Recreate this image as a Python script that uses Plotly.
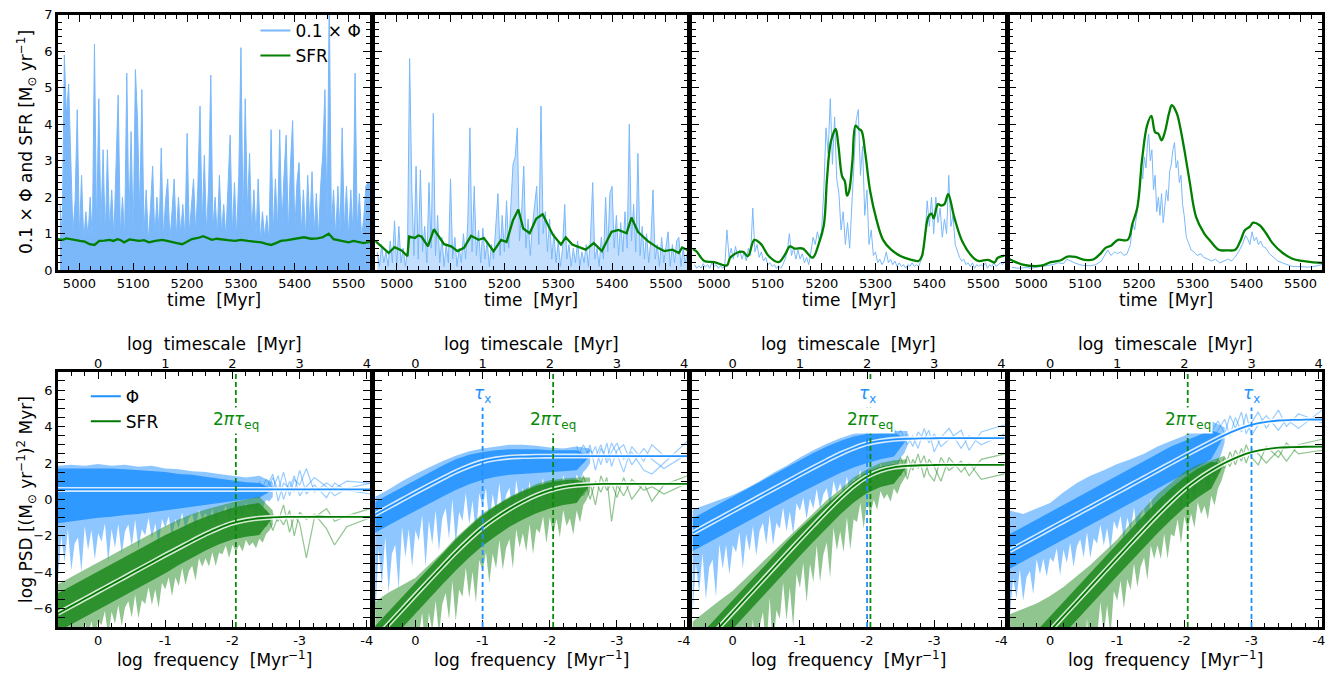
import numpy as np
import plotly.graph_objects as go

W, H = 1342, 684
FONT = "DejaVu Sans"

# ======================= TOP ROW: time series =======================
T0, DT = 4964, 4  # sampling grid of the dense Phi series [Myr]

PHI_1 = [1.8, 0.9, 5.9, 4.2, 5.1, 2.8, 1.0, 1.9, 4.4, 0.9,
         2.6, 0.8, 1.6, 0.9, 2.0, 0.8, 6.2, 1.0, 4.7, 1.2,
         3.3, 0.9, 3.3, 1.1, 2.2, 0.9, 3.05, 4.8, 1.0, 2.0,
         0.9, 5.4, 1.3, 3.8, 0.9, 5.5, 4.1, 1.5, 4.95, 1.0,
         2.2, 0.8, 1.7, 2.85, 0.9, 2.0, 1.0, 3.35, 0.9, 1.9,
         2.5, 0.8, 1.6, 2.5, 0.9, 2.0, 1.0, 1.8, 0.9, 3.75,
         1.0, 1.9, 2.5, 1.0, 2.3, 4.5, 1.2, 3.15, 1.0, 2.3,
         5.35, 1.1, 2.0, 0.9, 2.6, 1.0, 1.8, 0.9, 2.1, 3.7,
         1.0, 2.4, 0.9, 2.6, 6.1, 1.2, 4.7, 1.6, 3.2, 1.0,
         2.2, 0.9, 2.5, 0.8, 1.6, 0.9, 1.5, 0.8, 3.85, 1.0,
         2.5, 1.1, 3.85, 1.2, 2.6, 3.7, 1.0, 2.9, 4.1, 1.1,
         2.4, 2.95, 1.0, 2.2, 0.9, 2.6, 1.2, 2.7, 1.0, 2.1,
         0.9, 2.3, 3.2, 4.95, 1.3, 7.5, 1.2, 2.2, 0.9, 2.3,
         1.0, 3.9, 1.1, 2.3, 0.9, 2.2, 1.0, 5.4, 1.1, 2.1,
         0.9, 1.4, 2.3, 2.4, 2.4]

PHI_2 = [0.5, 0.1, 0.7, 0.2, 0.5, 0.1, 0.8, 0.2, 1.35, 0.1,
         1.2, 0.2, 0.6, 0.1, 0.5, 5.8, 2.3, 0.4, 2.85, 0.3,
         2.75, 0.5, 1.2, 0.2, 2.4, 0.6, 4.3, 0.4, 1.5, 0.2,
         0.9, 0.1, 0.7, 0.2, 2.5, 0.3, 0.9, 0.1, 0.6, 0.2,
         1.0, 0.3, 1.3, 3.9, 0.5, 2.3, 0.4, 1.1, 0.2, 1.15,
         0.3, 0.8, 0.1, 0.7, 0.3, 1.2, 2.1, 0.4, 1.5, 0.5,
         1.9, 0.6, 1.8, 2.9, 3.1, 3.9, 0.8, 1.6, 2.85, 0.6,
         1.4, 0.4, 1.2, 1.7, 2.3, 0.7, 4.5, 1.0, 1.6, 0.5,
         1.4, 0.3, 1.0, 0.2, 0.8, 0.1, 0.6, 1.8, 0.3, 0.7,
         0.1, 0.6, 0.2, 0.8, 0.1, 0.5, 0.2, 0.7, 0.1, 0.9,
         2.4, 0.3, 0.6, 0.1, 0.9, 0.3, 2.0, 0.5, 2.1, 2.3,
         0.6, 1.5, 0.4, 1.3, 0.5, 1.6, 0.6, 4.0, 0.8, 1.8,
         0.5, 3.2, 0.4, 1.2, 0.3, 1.0, 0.2, 0.8, 2.2, 0.3,
         0.7, 0.1, 0.9, 0.2, 0.6, 1.05, 0.1, 0.7, 0.2, 0.8,
         0.9, 0.1, 0.6, 0.2, 0.5]

PHI_3 = [0.15, 0.05, 0.12, 0.05, 0.18, 0.08, 0.15, 0.05, 0.2, 0.1,
         0.15, 0.05, 0.12, 0.05, 0.1, 1.1, 0.35, 0.6, 0.3, 0.65,
         0.35, 0.55, 0.3, 0.5, 0.25, 0.6, 0.4, 1.7, 0.5, 0.7,
         0.35, 0.5, 0.25, 0.35, 0.15, 0.2, 0.1, 0.15, 0.05, 0.12,
         0.05, 0.15, 0.3, 0.5, 1.0, 0.4, 0.6, 0.3, 0.55, 0.3,
         0.45, 0.2, 0.35, 0.15, 0.5, 0.9, 0.7, 1.05, 0.8, 1.1,
         2.2, 3.9, 3.2, 4.7, 2.9, 4.2, 2.5, 2.1, 1.1, 1.6,
         0.7, 1.3, 0.6, 1.8, 2.6, 4.1, 4.4, 2.6, 3.4, 1.5,
         2.2, 0.7, 1.1, 0.4, 0.5, 0.2, 0.3, 0.15, 0.25, 0.5,
         0.2, 0.3, 0.15, 0.25, 0.1, 0.2, 0.1, 0.15, 0.05, 0.15,
         0.1, 0.2, 0.1, 0.15, 0.1, 0.25, 0.4, 0.9, 1.9, 1.2,
         2.0, 1.0, 2.0, 1.3, 1.7, 0.9, 1.4, 1.0, 2.6, 1.2,
         1.5, 0.7, 0.5, 0.35, 0.25, 0.3, 0.15, 0.2, 0.1, 0.2,
         0.05, 0.15, 0.1, 0.15, 0.1, 0.2, 0.05, 0.15, 0.1, 0.2,
         0.1, 0.15, 0.2, 0.15, 0.25]

PHI4_T = [4964, 4975, 4990, 5000, 5010, 5020, 5030, 5040, 5050, 5060,
          5066, 5072, 5080, 5090, 5100, 5110, 5120, 5130, 5138, 5142,
          5148, 5155, 5160, 5166, 5172, 5178, 5184, 5188, 5192, 5196,
          5200, 5204, 5207, 5210, 5213, 5216, 5218, 5221, 5224, 5227,
          5230, 5233, 5236, 5239, 5242, 5245, 5248, 5251, 5254, 5257,
          5260, 5263, 5266, 5269, 5272, 5275, 5278, 5281, 5284, 5288,
          5292, 5297, 5302, 5308, 5315, 5320, 5328, 5335, 5342, 5350,
          5358, 5366, 5372, 5378, 5385, 5392, 5398, 5402, 5406, 5410,
          5414, 5418, 5422, 5426, 5430, 5436, 5442, 5450, 5458, 5466,
          5475, 5485, 5495, 5505, 5515, 5525, 5535, 5540]
PHI_4 = [0.08, 0.05, 0.07, 0.05, 0.08, 0.1, 0.13, 0.15, 0.2, 0.18,
         0.3, 0.25, 0.2, 0.15, 0.12, 0.12, 0.15, 0.25, 0.45, 0.55,
         0.4, 0.5, 0.45, 0.5, 0.4, 0.45, 0.7, 1.3, 1.1, 1.6,
         2.0, 2.9, 2.5, 3.1, 2.8, 3.5, 3.73, 3.0, 3.3, 2.2,
         2.6, 1.6, 2.0, 1.5, 2.1, 1.3, 1.8, 2.2, 1.9, 2.7,
         2.9, 3.3, 3.5, 2.8, 3.0, 2.4, 2.6, 1.8, 1.5, 0.9,
         0.75, 0.55, 0.5, 0.4, 0.45, 0.35, 0.3, 0.25, 0.3, 0.2,
         0.25, 0.3, 0.25, 0.35, 0.5, 0.7, 0.95, 0.85, 0.7, 1.05,
         0.8, 0.9, 0.7, 0.8, 0.65, 0.6, 0.45, 0.35, 0.25, 0.2,
         0.15, 0.1, 0.1, 0.08, 0.08, 0.1, 0.12, 0.15]

SFR1_T = [4960, 4969, 4976, 4982, 4990, 5001, 5010, 5019, 5028, 5037,
          5046, 5056, 5063, 5071, 5077, 5083, 5093, 5102, 5111, 5120,
          5129, 5141, 5154, 5163, 5172, 5181, 5191, 5200, 5209, 5220,
          5230, 5238, 5246, 5255, 5264, 5276, 5289, 5300, 5313, 5325,
          5338, 5347, 5356, 5365, 5374, 5386, 5399, 5408, 5417, 5430,
          5442, 5452, 5463, 5472, 5481, 5491, 5500, 5509, 5518, 5528,
          5540]
SFR1 = [0.85, 0.83, 0.87, 0.85, 0.82, 0.80, 0.78, 0.71, 0.69, 0.80,
        0.81, 0.83, 0.80, 0.85, 0.82, 0.76, 0.84, 0.81, 0.80, 0.82,
        0.76, 0.80, 0.83, 0.80, 0.76, 0.74, 0.71, 0.78, 0.85, 0.88,
        0.93, 0.88, 0.83, 0.86, 0.85, 0.82, 0.80, 0.83, 0.80, 0.79,
        0.76, 0.72, 0.69, 0.74, 0.80, 0.82, 0.85, 0.88, 0.90, 0.86,
        0.87, 0.90, 1.0, 0.85, 0.82, 0.78, 0.76, 0.80, 0.77, 0.74,
        0.78]

SFR2_T = [4960, 4985, 4996, 5009, 5020, 5023, 5034, 5040, 5046, 5058,
          5069, 5088, 5101, 5113, 5125, 5138, 5152, 5162, 5180, 5194,
          5204, 5216, 5226, 5235, 5247, 5259, 5271, 5290, 5305, 5314,
          5326, 5351, 5366, 5381, 5399, 5412, 5427, 5436, 5448, 5466,
          5485, 5497, 5512, 5524, 5530, 5540]
SFR2 = [0.80, 0.47, 0.63, 0.54, 0.38, 0.92, 0.88, 0.95, 0.92, 0.65,
        1.12, 0.71, 0.65, 0.52, 0.61, 0.94, 0.83, 0.88, 0.52, 0.83,
        0.77, 1.37, 1.66, 1.14, 1.01, 1.41, 1.53, 0.97, 0.70, 0.90,
        0.70, 0.56, 0.74, 0.52, 1.05, 1.10, 1.01, 1.44, 1.05, 0.80,
        0.61, 0.52, 0.56, 0.47, 0.62, 0.55]

SFR3_T = [4960, 4967, 4982, 5000, 5024, 5030, 5045, 5054, 5063, 5075,
          5087, 5102, 5120, 5132, 5141, 5150, 5165, 5183, 5195, 5204,
          5210, 5217, 5226, 5231, 5238, 5243, 5247, 5251, 5257, 5263,
          5269, 5274, 5281, 5290, 5302, 5314, 5329, 5347, 5365, 5380,
          5386, 5398, 5404, 5408, 5416, 5422, 5428, 5435, 5446, 5461,
          5479, 5491, 5509, 5521, 5527, 5540]
SFR3 = [0.58, 0.52, 0.25, 0.22, 0.13, 0.34, 0.49, 0.50, 0.38, 0.83,
        0.72, 0.38, 0.22, 0.43, 0.65, 0.59, 0.59, 0.34, 0.74, 1.23,
        2.53, 3.51, 3.87, 3.42, 2.57, 2.44, 2.04, 2.17, 2.98, 3.96,
        3.87, 3.82, 3.20, 2.17, 1.37, 0.83, 0.56, 0.38, 0.29, 0.25,
        0.38, 1.46, 1.55, 1.42, 1.81, 1.77, 1.81, 2.08, 1.46, 0.79,
        0.38, 0.25, 0.28, 0.21, 0.34, 0.40]

SFR4_T = [4960, 4982, 5018, 5036, 5055, 5067, 5082, 5097, 5115, 5127,
          5138, 5148, 5161, 5179, 5188, 5197, 5206, 5215, 5223, 5230,
          5236, 5242, 5248, 5256, 5261, 5270, 5276, 5285, 5294, 5306,
          5321, 5333, 5348, 5364, 5379, 5388, 5397, 5406, 5412, 5424,
          5436, 5448, 5467, 5485, 5503, 5524, 5540]
SFR4 = [0.30, 0.16, 0.12, 0.22, 0.27, 0.37, 0.36, 0.29, 0.29, 0.43,
        0.61, 0.67, 0.83, 0.83, 1.28, 1.72, 3.06, 3.96, 4.23, 3.78,
        3.74, 3.56, 3.78, 4.31, 4.52, 4.31, 3.96, 3.24, 2.44, 1.46,
        1.01, 0.79, 0.56, 0.54, 0.56, 0.79, 1.10, 1.19, 1.30, 1.23,
        1.01, 0.74, 0.47, 0.31, 0.25, 0.21, 0.20]

# ======================= BOTTOM ROW: PSDs =======================
X_C = [0.6, 0.4, 0.2, 0.0, -0.2, -0.4, -0.6, -0.8, -1.0, -1.2, -1.4, -1.6, -1.8,
       -2.0, -2.2, -2.4, -2.6]
X_F = [round(0.6 - 0.05 * k, 2) for k in range(65)]   # 0.6 ... -2.6
X_M = X_C + [-2.8, -3.0, -3.2, -3.4, -3.6, -3.8, -4.05]
LF_X = [-2.4, -2.5, -2.6, -2.68, -2.76, -2.85, -2.92, -3.0, -3.1, -3.22, -3.4,
        -3.52, -3.7, -4.05]

# model PSDs (log PSD at X_M)
M_PHI = [
    [0.55, 0.55, 0.55, 0.55, 0.55, 0.55, 0.55, 0.55, 0.55, 0.55, 0.55, 0.55,
     0.55, 0.55, 0.55, 0.55, 0.55, 0.55, 0.55, 0.55, 0.55, 0.55, 0.55, 0.55],
    [-0.82, -0.42, -0.02, 0.38, 0.77, 1.15, 1.52, 1.83, 2.08, 2.23, 2.32, 2.35,
     2.37, 2.376, 2.38, 2.38, 2.38, 2.38, 2.38, 2.38, 2.38, 2.38, 2.38, 2.38],
    [-1.84, -1.44, -1.04, -0.64, -0.24, 0.16, 0.56, 0.96, 1.36, 1.75, 2.13, 2.50,
     2.81, 3.06, 3.21, 3.30, 3.33, 3.35, 3.356, 3.36, 3.36, 3.36, 3.36, 3.36],
    [-2.81, -2.41, -2.01, -1.61, -1.21, -0.81, -0.41, -0.01, 0.39, 0.79, 1.19,
     1.59, 1.99, 2.39, 2.78, 3.16, 3.53, 3.84, 4.09, 4.24, 4.33, 4.36, 4.38, 4.386],
]
M_SFR = [
    [-6.25, -5.85, -5.45, -5.05, -4.65, -4.25, -3.85, -3.45, -3.05, -2.66, -2.27,
     -1.90, -1.57, -1.30, -1.13, -1.03, -0.98, -0.96, -0.955, -0.95, -0.95, -0.95,
     -0.95, -0.95],
    [-7.64, -6.84, -6.04, -5.24, -4.45, -3.67, -2.90, -2.19, -1.54, -1.0, -0.53,
     -0.12, 0.23, 0.50, 0.68, 0.78, 0.83, 0.85, 0.855, 0.858, 0.86, 0.86, 0.86, 0.86],
    [-8.6, -7.8, -7.0, -6.2, -5.4, -4.6, -3.8, -3.0, -2.2, -1.42, -0.65, 0.08,
     0.74, 1.25, 1.58, 1.76, 1.84, 1.876, 1.89, 1.896, 1.9, 1.9, 1.9, 1.9],
    [-9.6, -8.8, -8.0, -7.2, -6.4, -5.6, -4.8, -4.0, -3.2, -2.41, -1.62, -0.85,
     -0.12, 0.55, 1.11, 1.59, 2.00, 2.34, 2.59, 2.75, 2.84, 2.87, 2.89, 2.895],
]

# measured PSD envelopes: light (outer) upper on X_C, light (spiky) lower on X_F,
# dense core upper/lower on X_C
PHI_UP = [
    [1.85, 1.9, 1.85, 1.95, 1.85, 1.9, 1.8, 1.85, 1.7, 1.65, 1.55, 1.5, 1.4, 1.3, 1.2, 1.3, 0.95],
    [0.15, 0.55, 1.0, 1.4, 1.75, 2.1, 2.4, 2.65, 2.8, 2.9, 3.0, 3.0, 2.95, 2.85, 2.8, 2.9, 2.8],
    [-0.56, -0.3, -0.05, 0.24, 0.6, 1.0, 1.45, 1.85, 2.3, 2.7, 3.05, 3.35, 3.6, 3.8, 3.8, 3.75, 3.75],
    [-0.6, -0.8, -0.5, -0.2, 0.4, 0.9, 1.3, 1.6, 1.95, 2.2, 2.5, 2.9, 3.2, 3.5, 3.9, 4.3, 3.95],
]
PHI_CU = [
    [1.7, 1.7, 1.7, 1.7, 1.7, 1.65, 1.6, 1.55, 1.5, 1.4, 1.35, 1.25, 1.15, 1.05, 0.95, 0.9, 0.55],
    [-0.12, 0.28, 0.68, 1.08, 1.47, 1.85, 2.2, 2.45, 2.6, 2.7, 2.75, 2.75, 2.75, 2.7, 2.7, 2.7, 2.38],
    [-1.04, -0.64, -0.24, 0.16, 0.56, 0.96, 1.36, 1.76, 2.16, 2.55, 2.9, 3.2, 3.45, 3.6, 3.65, 3.65, 3.33],
    [-1.9, -1.5, -1.1, -0.7, -0.3, 0.1, 0.5, 0.9, 1.3, 1.7, 2.1, 2.5, 2.9, 3.2, 3.5, 3.8, 3.53],
]
PHI_CL = [
    [-1.3, -1.2, -1.1, -1.0, -0.95, -0.85, -0.8, -0.7, -0.6, -0.5, -0.4, -0.3, -0.2, -0.1, 0.0, 0.1, 0.55],
    [-1.82, -1.42, -1.02, -0.62, -0.23, 0.15, 0.52, 0.83, 1.08, 1.25, 1.35, 1.4, 1.45, 1.5, 1.55, 1.6, 2.38],
    [-2.84, -2.44, -2.04, -1.64, -1.24, -0.84, -0.44, -0.04, 0.36, 0.75, 1.1, 1.45, 1.75, 2.0, 2.2, 2.35, 3.33],
    [-3.8, -3.4, -3.0, -2.6, -2.2, -1.8, -1.4, -1.0, -0.6, -0.2, 0.2, 0.6, 1.0, 1.4, 1.8, 2.2, 3.53],
]
PHI_LO = [
    [-4.5, -2.0, -3.45, -1.62, -3.91, -2.41, -2.09, -3.98, -1.47, -2.77,
     -1.67, -3.29, -1.85, -2.32, -1.32, -3.45, -1.64, -2.65, -1.35, -3.02,
     -1.74, -1.37, -2.59, -1.11, -2.71, -1.63, -1.96, -1.01, -2.15, -1.31,
     -2.5, -1.07, -1.55, -0.92, -2.05, -1.07, -1.58, -0.71, -1.66, -1.03,
     -0.8, -1.65, -0.57, -1.1, -0.73, -1.24, -0.51, -1.3, -0.65, -0.76,
     -0.35, -1.06, -0.38, -0.8, -0.42, -0.89, -0.19, -0.6, -0.39, -0.85,
     -0.16, -0.5, -0.03, -0.1, 0.15],
    [-6.5, -2.71, -4.72, -2.03, -5.1, -2.98, -2.47, -4.97, -1.49, -3.17,
     -1.62, -3.69, -1.7, -2.26, -0.86, -3.7, -1.15, -2.47, -0.61, -2.83,
     -1.02, -0.47, -2.18, 0.03, -2.45, -0.69, -1.18, 0.36, -1.39, -0.06,
     -1.94, 0.36, -0.41, 0.61, -1.38, 0.31, -0.71, 0.92, -0.93, 0.26,
     0.66, -1.05, 1.05, -0.05, 0.64, -0.42, 1.01, -0.65, 0.63, 0.37,
     1.19, -0.28, 1.04, 0.25, 0.97, 0.26, 1.33, 0.79, 1.09, 0.65,
     1.36, 1.06, 1.5, 1.7, 1.98],
    [-6.4, -3.52, -5.09, -2.97, -5.47, -3.72, -3.29, -5.35, -2.45, -3.8,
     -2.5, -4.13, -2.51, -2.89, -1.78, -3.78, -1.91, -2.82, -1.48, -3.07,
     -1.73, -1.28, -2.47, -0.85, -2.5, -1.28, -1.61, -0.45, -1.76, -0.66,
     -1.9, -0.21, -0.62, 0.1, -1.08, 0.05, -0.51, 0.58, -0.51, 0.29,
     0.63, -0.42, 1.03, 0.34, 0.89, 0.2, 1.27, 0.14, 1.13, 0.95,
     1.63, 0.42, 1.58, 0.91, 1.6, 1.0, 1.99, 1.53, 1.81, 1.37,
     2.1, 1.79, 2.3, 2.5, 2.93],
    [-6.5, -4.31, -5.42, -3.84, -5.57, -4.28, -3.93, -5.2, -3.29, -4.1,
     -3.25, -4.23, -3.18, -3.43, -2.67, -4.15, -2.75, -3.48, -2.38, -3.69,
     -2.57, -2.18, -3.18, -1.78, -3.21, -2.13, -2.41, -1.39, -2.53, -1.57,
     -2.8, -1.18, -1.65, -0.89, -2.26, -0.99, -1.7, -0.41, -1.93, -0.89,
     -0.48, -2.05, 0.08, -0.89, -0.13, -1.08, 0.39, -1.2, 0.17, -0.05,
     0.89, -0.65, 0.89, 0.03, 0.94, 0.08, 1.53, 0.81, 1.26, 0.45,
     1.8, 1.11, 2.1, 2.5, 3.13],
]
SFR_UP = [
    [-4.65, -4.25, -3.85, -3.45, -3.05, -2.65, -2.25, -1.85, -1.45, -1.1, -0.8, -0.55, -0.35, -0.15, 0.0, 0.15, -0.6],
    [-5.6, -5.1, -4.7, -4.3, -3.6, -2.9, -2.1, -1.4, -0.75, -0.3, 0.15, 0.5, 0.85, 1.05, 1.15, 1.2, 1.2],
    [-6.7, -6.1, -5.55, -5.0, -4.3, -3.6, -2.9, -2.2, -1.45, -0.75, -0.05, 0.55, 1.2, 1.65, 2.0, 2.15, 2.2],
    [-6.3, -6.0, -5.7, -5.3, -4.8, -4.2, -3.6, -2.9, -2.2, -1.3, -0.5, 0.3, 0.9, 1.5, 1.9, 2.15, 2.4],
]
SFR_CU = [
    [-5.15, -4.75, -4.35, -3.95, -3.55, -3.15, -2.75, -2.35, -1.95, -1.6, -1.25, -0.95, -0.7, -0.45, -0.3, -0.2, -0.98],
    [-6.94, -6.14, -5.34, -4.54, -3.75, -2.97, -2.2, -1.5, -0.85, -0.35, 0.1, 0.45, 0.75, 0.95, 1.05, 1.1, 0.83],
    [-7.9, -7.1, -6.3, -5.5, -4.7, -3.9, -3.1, -2.35, -1.6, -0.9, -0.25, 0.35, 1.0, 1.5, 1.8, 1.95, 1.84],
    [-8.8, -8.0, -7.2, -6.4, -5.6, -4.8, -4.0, -3.2, -2.4, -1.6, -0.85, -0.1, 0.6, 1.2, 1.7, 2.05, 2.0],
]
SFR_CL = [
    [-7.25, -6.85, -6.45, -6.05, -5.65, -5.25, -4.85, -4.45, -4.05, -3.6, -3.2, -2.8, -2.45, -2.2, -2.05, -1.95, -0.98],
    [-8.64, -7.84, -7.04, -6.24, -5.45, -4.67, -3.9, -3.19, -2.54, -2.0, -1.5, -1.1, -0.75, -0.5, -0.3, -0.2, 0.83],
    [-9.5, -8.7, -7.9, -7.1, -6.3, -5.5, -4.7, -3.9, -3.1, -2.32, -1.55, -0.82, -0.16, 0.35, 0.68, 0.86, 1.84],
    [-10.6, -9.8, -9.0, -8.2, -7.4, -6.6, -5.8, -5.0, -4.2, -3.41, -2.62, -1.85, -1.12, -0.45, 0.11, 0.59, 2.0],
]
SFR_LO = [
    [-9.0, -7.58, -8.27, -7.21, -8.35, -7.48, -7.23, -8.28, -6.72, -7.44,
     -6.68, -7.65, -6.65, -6.88, -6.12, -7.5, -6.16, -6.81, -5.8, -6.94,
     -5.93, -5.58, -6.47, -5.22, -6.52, -5.51, -5.74, -4.82, -5.79, -4.94,
     -5.95, -4.57, -4.93, -4.27, -5.3, -4.26, -4.75, -3.75, -4.69, -3.94,
     -3.63, -4.45, -3.22, -3.69, -3.23, -3.68, -2.89, -3.65, -2.92, -3.0,
     -2.53, -3.21, -2.48, -2.86, -2.48, -2.86, -2.23, -2.55, -2.36, -2.68,
     -2.16, -2.37, -1.9, -1.7, -1.4],
    [-11.0, -8.98, -9.85, -8.35, -9.79, -8.6, -8.2, -9.63, -7.38, -8.4,
     -7.24, -8.74, -7.14, -7.47, -6.22, -8.4, -6.21, -7.22, -5.56, -7.4,
     -5.73, -5.13, -6.6, -4.47, -6.66, -4.94, -5.34, -3.75, -5.4, -3.96,
     -5.65, -3.32, -3.92, -2.89, -4.6, -2.97, -3.78, -2.22, -3.85, -2.66,
     -2.18, -3.78, -1.63, -2.64, -1.86, -2.86, -1.36, -2.99, -1.6, -1.84,
     -0.93, -2.42, -0.98, -1.88, -1.07, -2.07, -0.59, -1.46, -1.03, -1.93,
     -0.6, -1.27, -0.3, 0.0, 0.43],
    [-11.0, -9.72, -10.46, -9.2, -10.78, -9.56, -9.18, -11.0, -8.3, -9.72,
     -8.28, -10.46, -8.34, -8.88, -7.17, -10.25, -7.3, -8.78, -6.56, -9.25,
     -6.97, -6.17, -8.24, -5.38, -8.32, -6.06, -6.56, -4.56, -6.63, -4.84,
     -7.0, -4.07, -4.85, -3.48, -5.64, -3.53, -4.51, -2.53, -4.52, -3.0,
     -2.36, -4.3, -1.57, -2.78, -1.75, -2.9, -0.97, -2.76, -1.08, -1.23,
     -0.2, -1.59, -0.1, -0.78, -0.01, -0.56, 0.47, 0.03, 0.3, -0.12,
     0.61, 0.29, 0.8, 1.1, 1.44],
    [-11.5, -10.7, -11.14, -10.24, -11.34, -10.42, -10.1, -11.5, -9.34, -10.46,
     -9.26, -11.05, -9.26, -9.8, -8.26, -11.5, -8.5, -10.24, -7.76, -11.04,
     -8.38, -7.4, -9.66, -6.49, -9.32, -7.09, -7.51, -5.62, -7.43, -5.79,
     -7.5, -5.03, -5.55, -4.46, -5.97, -4.37, -4.97, -3.51, -4.81, -3.69,
     -3.19, -4.4, -2.53, -3.26, -2.51, -3.27, -1.88, -3.25, -1.91, -2.03,
     -1.08, -2.41, -0.92, -1.66, -0.79, -1.55, -0.15, -0.81, -0.35, -1.08,
     0.21, -0.33, 0.6, 1.0, 1.6],
]
# individual realisations at the lowest frequencies (on LF_X)
PHI_LF = [
    [[1.0, 0.3, 1.2, 0.5, 1.5, 0.2, 1.1, 0.8, 1.7, 0.4, 0.9, 0.6, 1.0, 0.9],
     [0.2, 1.1, 0.6, 1.3, 0.0, 1.0, 0.4, 1.6, 0.3, 0.8, 0.1, 0.9, 0.5, 0.3],
     [0.8, 0.6, 1.4, -0.1, 0.9, 0.6, 1.3, 0.2, 0.7, 1.2, 0.7, 0.2, 0.6, 0.9]],
    [[2.9, 2.0, 3.0, 1.6, 2.8, 2.2, 3.1, 2.5, 1.5, 2.9, 2.1, 3.0, 2.4, 2.3],
     [2.2, 3.0, 2.3, 2.9, 1.9, 3.1, 1.8, 2.7, 3.0, 1.9, 2.8, 2.2, 1.7, 2.5],
     [2.6, 2.4, 2.7, 2.3, 3.0, 2.0, 2.6, 3.1, 2.2, 2.6, 1.6, 1.4, 2.0, 3.2]],
    [[3.9, 3.1, 3.6, 2.9, 3.7, 3.3, 3.8, 2.6, 3.4, 3.9, 2.8, 3.5, 3.0, 3.6],
     [3.2, 3.8, 3.0, 3.5, 2.8, 3.9, 3.1, 3.6, 2.9, 3.3, 3.8, 2.7, 3.7, 4.1]],
    [[3.7, 4.3, 3.6, 4.6, 3.9, 4.8, 3.6, 4.2, 4.8, 3.9, 4.9, 4.0, 4.7, 4.2],
     [3.2, 3.8, 4.4, 3.5, 4.5, 3.7, 4.7, 3.5, 4.1, 4.6, 3.8, 4.4, 3.9, 4.9]],
]
SFR_LF = [
    [[-0.5, -1.5, -0.8, -1.2, -0.3, -1.8, -0.9, -1.3, -3.2, -1.0, -0.5, -1.2, -0.9, -0.5],
     [-1.2, -0.6, -1.7, -0.9, -1.4, -0.6, -2.0, -0.7, -1.1, -0.8, -1.6, -2.5, -1.5, -1.0]],
    [[0.3, 1.3, 0.0, 1.0, 0.4, 1.2, -1.2, 0.8, 0.2, 1.1, 0.5, 0.7, 0.3, 0.9],
     [1.0, 0.2, 0.9, -0.3, 1.3, 0.5, 0.9, 0.1, 1.2, 0.0, 0.9, -0.1, 0.8, 1.3]],
    [[2.1, 1.3, 2.4, 1.6, 2.5, 1.2, 2.2, 1.8, 1.0, 2.3, 1.5, 2.0, 1.1, 1.4],
     [1.5, 2.3, 1.1, 2.2, 1.7, 2.4, 1.4, 1.0, 2.3, 1.6, 2.1, 1.3, 2.2, 2.5]],
    [[2.0, 1.5, 2.3, 1.8, 2.7, 2.1, 3.0, 2.3, 1.9, 2.9, 2.3, 3.1, 2.5, 2.7],
     [1.3, 2.2, 1.7, 2.6, 1.9, 2.8, 2.0, 2.8, 2.5, 2.0, 2.7, 2.1, 3.0, 3.3]],
]
TAU_EQ = [-2.05, -2.05, -2.05, -2.05]      # log frequency of 2*pi*tau_eq
TAU_X = [None, -1.0, -2.0, -3.0]           # log frequency of tau_x

# ======================= styling =======================
PHI_TOP = "rgb(122,184,250)"
PHI_TOP_FILL = "rgba(122,184,250,0.45)"
SFR_TOP = "#007f00"
PHI_C = "rgba(30,144,255,0.85)"
PHI_L = "rgba(30,144,255,0.5)"
PHI_LINE = "rgba(30,144,255,0.45)"
SFR_C = "rgba(34,139,34,0.9)"
SFR_L = "rgba(34,139,34,0.5)"
SFR_LINE = "rgba(34,139,34,0.5)"
PHI_MODEL = "#1e90ff"
SFR_MODEL = "#007a00"

col_x = [58, 376, 694, 1012]
PW = 313
TOP_ROW = (8, 269)
BOT_ROW = (373, 634)


def xd(i):
    return [col_x[i] / W, (col_x[i] + PW) / W]


def yd(row):
    return [(H - row[1]) / H, (H - row[0]) / H]


def ref(prefix, n):
    return prefix if n == 1 else f"{prefix}{n}"


fig = go.Figure()

# ---- top row traces
phi_series = [(T0 + DT * np.arange(len(PHI_1)), PHI_1),
              (T0 + DT * np.arange(len(PHI_2)), PHI_2),
              (T0 + DT * np.arange(len(PHI_3)), PHI_3),
              (PHI4_T, PHI_4)]
sfr_series = [(SFR1_T, SFR1), (SFR2_T, SFR2), (SFR3_T, SFR3), (SFR4_T, SFR4)]
for i in range(4):
    xa, ya = ref("x", i + 1), ref("y", i + 1)
    t, v = phi_series[i]
    if i == 0:
        kw = dict(fill="tozeroy", fillcolor=PHI_TOP)
    elif i == 1:
        kw = dict(fill="tozeroy", fillcolor=PHI_TOP_FILL)
    else:
        kw = {}
    fig.add_trace(go.Scatter(x=t, y=v, mode="lines", xaxis=xa, yaxis=ya,
                             line=dict(color=PHI_TOP, width=1.0),
                             showlegend=False, hoverinfo="skip", **kw))
    t, v = sfr_series[i]
    fig.add_trace(go.Scatter(x=t, y=v, mode="lines", xaxis=xa, yaxis=ya,
                             line=dict(color=SFR_TOP, width=2.3,
                                       shape="spline" if i >= 2 else "linear"),
                             showlegend=False, hoverinfo="skip"))

# legend entries (top)
fig.add_trace(go.Scatter(x=[None], y=[None], mode="lines", name="0.1 × Φ",
                         line=dict(color=PHI_TOP, width=2), legend="legend"))
fig.add_trace(go.Scatter(x=[None], y=[None], mode="lines", name="SFR",
                         line=dict(color=SFR_TOP, width=2), legend="legend"))


def band(xa, ya, xs_up, up, xs_lo, lo, color):
    return go.Scatter(x=list(xs_up) + list(xs_lo)[::-1], y=list(up) + list(lo)[::-1],
                      mode="lines", fill="toself", fillcolor=color, line=dict(width=0),
                      xaxis=xa, yaxis=ya, showlegend=False, hoverinfo="skip")


# ---- bottom row traces
for i in range(4):
    n = i + 5
    xa, ya = ref("x", n), ref("y", n)
    fig.add_trace(band(xa, ya, X_C, PHI_UP[i], X_F, PHI_LO[i], PHI_L))
    fig.add_trace(band(xa, ya, X_C, PHI_CU[i], X_C, PHI_CL[i], PHI_C))
    for line in PHI_LF[i]:
        fig.add_trace(go.Scatter(x=LF_X, y=line, mode="lines", xaxis=xa, yaxis=ya,
                                 line=dict(color=PHI_LINE, width=1.2),
                                 showlegend=False, hoverinfo="skip"))
    fig.add_trace(band(xa, ya, X_C, SFR_UP[i], X_F, SFR_LO[i], SFR_L))
    fig.add_trace(band(xa, ya, X_C, SFR_CU[i], X_C, SFR_CL[i], SFR_C))
    for line in SFR_LF[i]:
        fig.add_trace(go.Scatter(x=LF_X, y=line, mode="lines", xaxis=xa, yaxis=ya,
                                 line=dict(color=SFR_LINE, width=1.2),
                                 showlegend=False, hoverinfo="skip"))
    for model, col in ((M_PHI[i], PHI_MODEL), (M_SFR[i], SFR_MODEL)):
        fig.add_trace(go.Scatter(x=X_M, y=model, mode="lines", xaxis=xa, yaxis=ya,
                                 line=dict(color="rgba(255,255,255,0.8)", width=5,
                                           shape="spline"),
                                 showlegend=False, hoverinfo="skip"))
        fig.add_trace(go.Scatter(x=X_M, y=model, mode="lines", xaxis=xa, yaxis=ya,
                                 line=dict(color=col, width=1.8, shape="spline"),
                                 showlegend=False, hoverinfo="skip"))
    fig.add_trace(go.Scatter(x=[0], y=[0], mode="markers", xaxis=ref("x", i + 9), yaxis=ya,
                             marker=dict(opacity=0), showlegend=False, hoverinfo="skip"))

fig.add_trace(go.Scatter(x=[None], y=[None], mode="lines", name="Φ", xaxis="x5", yaxis="y5",
                         line=dict(color=PHI_MODEL, width=2), legend="legend2"))
fig.add_trace(go.Scatter(x=[None], y=[None], mode="lines", name="SFR", xaxis="x5", yaxis="y5",
                         line=dict(color=SFR_MODEL, width=2), legend="legend2"))

# ---- axes
tickfont = dict(family=FONT, size=13, color="black")
common = dict(showline=True, linewidth=2.5, linecolor="black", mirror="allticks",
              ticks="inside", ticklen=7, tickwidth=1.4, tickcolor="black",
              showgrid=False, zeroline=False, tickfont=tickfont)

layout_axes = {}
for i in range(4):
    layout_axes[ref("xaxis", i + 1)] = dict(
        common, domain=xd(i), anchor=ref("y", i + 1), range=[4960, 5540],
        tickmode="linear", tick0=5000, dtick=100, tickformat="d",
        minor=dict(ticks="inside", ticklen=4, tickwidth=1.1, tickcolor="black",
                   tick0=5000, dtick=20, showgrid=False))
    layout_axes[ref("yaxis", i + 1)] = dict(
        common, domain=yd(TOP_ROW), anchor=ref("x", i + 1), range=[0, 7],
        tickmode="linear", tick0=0, dtick=1, showticklabels=(i == 0),
        minor=dict(ticks="inside", ticklen=4, tickwidth=1.1, tickcolor="black",
                   tick0=0, dtick=0.2, showgrid=False))
    n = i + 5
    layout_axes[ref("xaxis", n)] = dict(
        common, domain=xd(i), anchor=ref("y", n), range=[0.6, -4.05],
        tickmode="array", tickvals=[0, -1, -2, -3, -4],
        ticktext=["0", "-1", "-2", "-3", "-4"],
        minor=dict(ticks="inside", ticklen=4, tickwidth=1.1, tickcolor="black",
                   tickmode="linear", tick0=0, dtick=0.2, showgrid=False))
    layout_axes[ref("yaxis", n)] = dict(
        common, domain=yd(BOT_ROW), anchor=ref("x", n), range=[-7, 7],
        tickmode="linear", tick0=0, dtick=2, showticklabels=(i == 0),
        minor=dict(ticks="inside", ticklen=4, tickwidth=1.1, tickcolor="black",
                   tick0=0, dtick=0.5, showgrid=False))
    layout_axes[ref("xaxis", i + 9)] = dict(
        overlaying=ref("x", n), anchor=ref("y", n), side="top", range=[-0.6, 4.05],
        tickmode="array", tickvals=[0, 1, 2, 3, 4], ticks="", showline=False,
        showgrid=False, zeroline=False, tickfont=tickfont)

# ---- shapes (vertical reference lines) and annotations
shapes = []
annotations = []
title_font = dict(family=FONT, size=17, color="black")
for i in range(4):
    n = i + 5
    xa, ya = ref("x", n), ref("y", n)
    shapes.append(dict(type="line", xref=xa, yref=ya, x0=TAU_EQ[i], x1=TAU_EQ[i],
                       y0=-7, y1=7, layer="above",
                       line=dict(color="#0a8a0a", width=1.8, dash="5px,3px")))
    annotations.append(dict(xref=xa, yref=ya, x=TAU_EQ[i], y=4.35,
                            xanchor="center", yanchor="middle",
                            text="2<i>πτ</i><sub>eq</sub>", showarrow=False,
                            font=dict(family=FONT, size=17, color="#0a8a0a"),
                            bgcolor="white", borderpad=1))
    if TAU_X[i] is not None:
        shapes.append(dict(type="line", xref=xa, yref=ya, x0=TAU_X[i], x1=TAU_X[i],
                           y0=-7, y1=5.4, layer="above",
                           line=dict(color=PHI_MODEL, width=1.8, dash="5px,3px")))
        annotations.append(dict(xref=xa, yref=ya, x=TAU_X[i], y=5.75,
                                xanchor="center", yanchor="middle",
                                text="<i>τ</i><sub>x</sub>", showarrow=False,
                                font=dict(family=FONT, size=17, color=PHI_MODEL),
                                bgcolor="white", borderpad=1))
    cx = (col_x[i] + PW / 2) / W
    annotations.append(dict(xref="paper", yref="paper", x=cx, y=(H - 300) / H,
                            xanchor="center", yanchor="middle",
                            text="time\u00a0 [Myr]", showarrow=False, font=title_font))
    annotations.append(dict(xref="paper", yref="paper", x=cx, y=(H - 345) / H,
                            xanchor="center", yanchor="middle",
                            text="log\u00a0 timescale\u00a0 [Myr]", showarrow=False,
                            font=title_font))
    annotations.append(dict(xref="paper", yref="paper", x=cx, y=(H - 667) / H,
                            xanchor="center", yanchor="middle",
                            text="log\u00a0 frequency\u00a0 [Myr<sup>−1</sup>]",
                            showarrow=False, font=title_font))

annotations.append(dict(xref="paper", yref="paper", x=27 / W, y=(H - 138) / H,
                        xanchor="center", yanchor="middle",
                        text="0.1 × Φ and SFR [M<sub>⊙</sub> yr<sup>−1</sup>]",
                        textangle=-90, showarrow=False, font=title_font))
annotations.append(dict(xref="paper", yref="paper", x=27 / W, y=(H - 503) / H,
                        xanchor="center", yanchor="middle",
                        text="log PSD [(M<sub>⊙</sub> yr<sup>−1</sup>)<sup>2</sup> Myr]",
                        textangle=-90, showarrow=False, font=title_font))

fig.update_layout(
    width=W, height=H, autosize=False,
    margin=dict(l=0, r=0, t=0, b=0),
    paper_bgcolor="white", plot_bgcolor="white",
    font=dict(family=FONT, size=13, color="black"),
    shapes=shapes, annotations=annotations,
    legend=dict(x=256 / W, y=(H - 6) / H, xanchor="left", yanchor="top",
                bgcolor="rgba(0,0,0,0)", font=dict(family=FONT, size=17),
                tracegroupgap=0),
    legend2=dict(x=86 / W, y=(H - 380) / H, xanchor="left", yanchor="top",
                 bgcolor="rgba(0,0,0,0)", font=dict(family=FONT, size=17),
                 tracegroupgap=0),
    **layout_axes,
)

fig.write_html("out.html", config={"displayModeBar": False},
               post_script="document.body.style.margin='0px';"
                           "document.body.style.overflow='hidden';")
